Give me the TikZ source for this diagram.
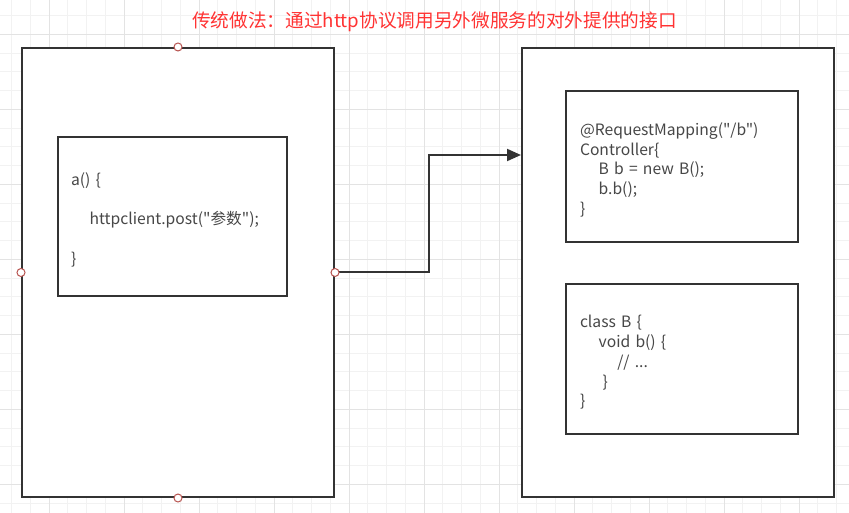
\documentclass[tikz,border=0pt]{standalone}
\usepackage{fontspec}
\setmainfont{Noto Sans CJK SC}[Ligatures=TeXOff]
\usepackage{xcolor}
\usetikzlibrary{calc,arrows.meta}
\definecolor{edge}{HTML}{333333}
\definecolor{title}{HTML}{FF3333}
\definecolor{pin}{HTML}{B85450}
\definecolor{minor}{HTML}{F2F2F2}
\definecolor{major}{HTML}{E3E3E3}

\begin{document}
\begin{tikzpicture}[x=0.75pt, y=-0.75pt,
	outer/.style={rectangle, draw=edge, line width=1.5pt, fill=white,
	minimum width=234pt, minimum height=336.75pt},
	inner/.style={rectangle, draw=edge, line width=1.5pt, fill=white,
	align=left, font=\fontsize{11.75}{14.8}\selectfont, text=edge!90},
	pin/.style={circle, draw=pin, fill=white, line width=0.75pt,
	inner sep=0pt, minimum size=6pt},
	>={Triangle[length=10.5pt,width=9pt]}]

\useasboundingbox (0,0) rectangle (849,513);
% grid
\foreach \x in {0,...,44}
	\draw[minor, line width=0.75pt] (11.5+18.75*\x,0) -- (11.5+18.75*\x,513);
\foreach \y in {0,...,27}
	\draw[minor, line width=0.75pt] (0,15.6+18.75*\y) -- (849,15.6+18.75*\y);
\foreach \x in {0,...,10}
	\draw[major, line width=0.75pt] (49+75*\x,0) -- (49+75*\x,513);
\foreach \y in {0,...,6}
	\draw[major, line width=0.75pt] (0,34.35+75*\y) -- (849,34.35+75*\y);

\node[text=title, font=\fontsize{14}{17}\selectfont] (T) at (434.5,22)
	{传统做法：通过http协议调用另外微服务的对外提供的接口};

\node[outer] (L) at (178,272.5) {};
\node[outer] (R) at (678,272.5) {};

\node[inner, minimum width=171.75pt, minimum height=119.25pt,
	inner xsep=9.75pt, text width=152.25pt] (La) at (172.5,216.5)
	{\rule{0pt}{14.5pt}a() \{\\[15pt] \hspace*{14pt}httpclient.post("参数");\\[15pt] \}};
\node[inner, minimum width=174pt, minimum height=113.25pt,
	inner xsep=10.5pt, text width=153pt] (Rc) at (682,166.5)
	{\rule{0pt}{14.5pt}@RequestMapping("/b")\\ Controller\{\\ \hspace*{14pt}B b = new B();\\
	\hspace*{14pt}b.b();\\ \}};
\node[inner, minimum width=174pt, minimum height=112.5pt,
	inner xsep=10.5pt, text width=153pt] (Rb) at (682,359)
	{\rule{0pt}{14.5pt}class B \{\\ \hspace*{14pt}void b() \{\\ \hspace*{28pt}// ...\\
	\hspace*{17pt}\}\\ \}};

\coordinate (in) at (R.west |- 0,155);
\draw[->, draw=edge, line width=1.5pt] (L.east) -- ++(94,0) |- (in);

\node[pin] (pn) at (L.north) {};
\node[pin] (pw) at (L.west) {};
\node[pin] (pe) at (L.east) {};
\node[pin] (ps) at (L.south) {};
\end{tikzpicture}
\end{document}
